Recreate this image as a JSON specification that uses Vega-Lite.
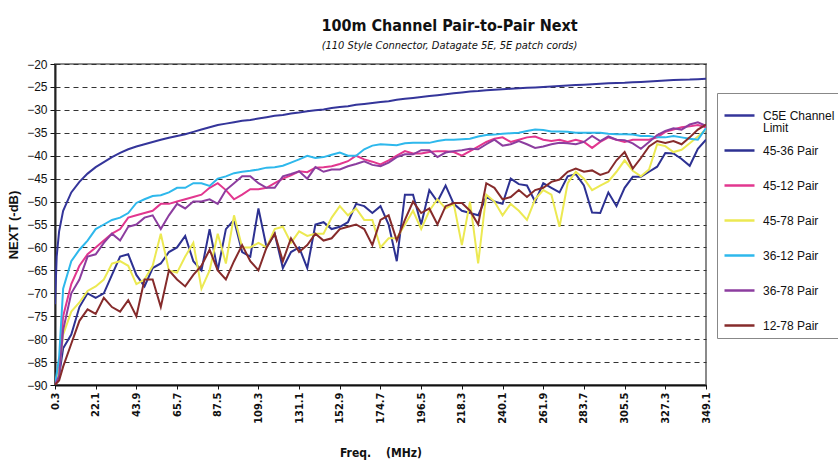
{
  "$schema": "https://vega.github.io/schema/vega-lite/v6.json",
  "width": 651,
  "height": 321,
  "autosize": {"type": "none"},
  "padding": {"left": 55, "top": 64, "right": 132, "bottom": 87},
  "background": "white",
  "title": {
    "text": "100m Channel Pair-to-Pair Next",
    "subtitle": "(110 Style Connector, Datagate 5E, 5E patch cords)",
    "anchor": "middle",
    "frame": "group",
    "dx": 69,
    "offset": 7,
    "font": "Liberation Sans Narrow, DejaVu Sans Condensed, sans-serif",
    "fontSize": 16,
    "fontWeight": "bold",
    "color": "#111111",
    "subtitleFont": "Liberation Sans Narrow, DejaVu Sans Condensed, sans-serif",
    "subtitleFontSize": 11,
    "subtitleFontStyle": "italic",
    "subtitleColor": "#111111",
    "subtitlePadding": 6
  },
  "config": {
    "view": {"stroke": "#8a8a8a", "strokeWidth": 2}
  },
  "data": {
    "values": [
      {"f":0.3,"lim":-72.4,"a":-90,"b":-90,"c":-90,"d":-90,"e":-90,"g":-90},
      {"f":1.2,"lim":-62},
      {"f":2.5,"lim":-56.5,"a":-88,"b":-86,"c":-87,"d":-84,"e":-88,"g":-89},
      {"f":4.66,"lim":-52,"a":-82,"b":-75,"c":-79,"d":-69,"e":-78,"g":-86},
      {"f":9.02,"lim":-48,"a":-79,"b":-68,"c":-74,"d":-63,"e":-70,"g":-81},
      {"f":13.38,"lim":-45.7,"a":-73,"b":-64,"c":-72,"d":-60.5,"e":-67,"g":-76},
      {"f":17.74,"lim":-43.9,"a":-70,"b":-61.5,"c":-69.5,"d":-58.5,"e":-62,"g":-73.5},
      {"f":22.1,"lim":-42.5,"a":-71,"b":-60,"c":-68.5,"d":-56,"e":-61.5,"g":-74.5},
      {"f":26.46,"lim":-41.4,"a":-70,"b":-58.5,"c":-67,"d":-55,"e":-59,"g":-71},
      {"f":30.82,"lim":-40.3,"a":-66,"b":-57,"c":-63.5,"d":-54,"e":-57,"g":-73},
      {"f":35.18,"lim":-39.4,"a":-62,"b":-56,"c":-63,"d":-53.5,"e":-58.5,"g":-74},
      {"f":39.54,"lim":-38.6,"a":-61.5,"b":-53.5,"c":-64,"d":-52.5,"e":-55.5,"g":-71.5},
      {"f":43.9,"lim":-38,"a":-66,"b":-53,"c":-68,"d":-50.3,"e":-55,"g":-75},
      {"f":48.26,"lim":-37.5,"a":-68.5,"b":-52.5,"c":-67,"d":-49.5,"e":-53.5,"g":-67},
      {"f":52.62,"lim":-37,"a":-64.5,"b":-52,"c":-64,"d":-48.8,"e":-53,"g":-67},
      {"f":56.98,"lim":-36.5,"a":-63.5,"b":-50.5,"c":-57,"d":-48.6,"e":-56,"g":-73},
      {"f":61.34,"lim":-36.1,"a":-61,"b":-50.5,"c":-65,"d":-48,"e":-53,"g":-65},
      {"f":65.7,"lim":-35.7,"a":-60,"b":-50,"c":-65.5,"d":-47,"e":-50.5,"g":-67},
      {"f":70.06,"lim":-35.3,"a":-57.5,"b":-49.5,"c":-62,"d":-47,"e":-51.5,"g":-68.5},
      {"f":74.42,"lim":-34.8,"a":-63,"b":-49,"c":-59,"d":-46,"e":-50,"g":-66},
      {"f":78.78,"lim":-34.3,"a":-65,"b":-48.5,"c":-69,"d":-46,"e":-50,"g":-64},
      {"f":83.14,"lim":-33.8,"a":-56,"b":-47,"c":-65,"d":-46.6,"e":-49.5,"g":-60.5},
      {"f":87.5,"lim":-33.3,"a":-65,"b":-46,"c":-57,"d":-45,"e":-50.5,"g":-65},
      {"f":91.86,"lim":-33,"a":-56,"b":-47.5,"c":-63.5,"d":-44.5,"e":-47.5,"g":-67},
      {"f":96.22,"lim":-32.7,"a":-54,"b":-49.5,"c":-53,"d":-43.8,"e":-46,"g":-63},
      {"f":100.58,"lim":-32.4,"a":-61,"b":-48.5,"c":-60,"d":-43.5,"e":-44.5,"g":-59.5},
      {"f":104.94,"lim":-32.2,"a":-62,"b":-47.3,"c":-60,"d":-43.3,"e":-44.5,"g":-63},
      {"f":109.3,"lim":-31.9,"a":-51.5,"b":-47.3,"c":-59,"d":-43,"e":-46,"g":-65},
      {"f":113.66,"lim":-31.6,"a":-60,"b":-47,"c":-60,"d":-42.6,"e":-47,"g":-60},
      {"f":118.02,"lim":-31.3,"a":-57,"b":-46,"c":-56,"d":-42.5,"e":-47,"g":-57},
      {"f":122.38,"lim":-31.1,"a":-64.5,"b":-45,"c":-55.5,"d":-42.2,"e":-44.5,"g":-63},
      {"f":126.74,"lim":-30.8,"a":-61,"b":-44.3,"c":-59,"d":-41.5,"e":-44,"g":-58},
      {"f":131.1,"lim":-30.6,"a":-60,"b":-43.4,"c":-56.5,"d":-40.8,"e":-43.4,"g":-61},
      {"f":135.46,"lim":-30.3,"a":-64.5,"b":-43.6,"c":-57.5,"d":-40,"e":-45,"g":-59.5},
      {"f":139.82,"lim":-30.1,"a":-55,"b":-42.6,"c":-57,"d":-40.5,"e":-42.5,"g":-57},
      {"f":144.18,"lim":-29.9,"a":-54.5,"b":-42.5,"c":-57,"d":-40.3,"e":-43.5,"g":-58.5},
      {"f":148.54,"lim":-29.6,"a":-56,"b":-42.3,"c":-53.5,"d":-39.8,"e":-43,"g":-58},
      {"f":152.9,"lim":-29.4,"a":-55.5,"b":-41.8,"c":-51,"d":-39.3,"e":-43,"g":-56},
      {"f":157.26,"lim":-29.2,"a":-54.5,"b":-41.2,"c":-53,"d":-40,"e":-42.3,"g":-55.5},
      {"f":161.62,"lim":-28.9,"a":-50.5,"b":-40,"c":-51.5,"d":-40,"e":-41.8,"g":-55},
      {"f":165.98,"lim":-28.7,"a":-51,"b":-40.8,"c":-54,"d":-38.6,"e":-41.2,"g":-56},
      {"f":170.34,"lim":-28.5,"a":-52.5,"b":-41.3,"c":-54,"d":-37.8,"e":-42,"g":-59.5},
      {"f":174.7,"lim":-28.3,"a":-51,"b":-41.9,"c":-60,"d":-37.5,"e":-42.3,"g":-54},
      {"f":179.06,"lim":-28.1,"a":-55,"b":-41,"c":-58,"d":-37.6,"e":-41.5,"g":-53},
      {"f":183.42,"lim":-27.8,"a":-63,"b":-40,"c":-58,"d":-37.7,"e":-40.3,"g":-58.5},
      {"f":187.78,"lim":-27.6,"a":-48.5,"b":-39,"c":-55,"d":-37.3,"e":-39.7,"g":-54},
      {"f":192.14,"lim":-27.4,"a":-48.5,"b":-39.5,"c":-52,"d":-37.2,"e":-39.7,"g":-50},
      {"f":196.5,"lim":-27.2,"a":-55,"b":-39.5,"c":-56,"d":-37.2,"e":-38.8,"g":-52.5},
      {"f":200.86,"lim":-27,"a":-47.5,"b":-39.2,"c":-52,"d":-37.2,"e":-38.8,"g":-51.5},
      {"f":205.22,"lim":-26.8,"a":-50,"b":-39,"c":-49.5,"d":-36.8,"e":-40.3,"g":-55},
      {"f":209.58,"lim":-26.6,"a":-46.5,"b":-39,"c":-51.5,"d":-36.5,"e":-39.3,"g":-51},
      {"f":213.94,"lim":-26.4,"a":-50.5,"b":-39.2,"c":-50.5,"d":-36.5,"e":-39,"g":-50.3},
      {"f":218.3,"lim":-26.2,"a":-52,"b":-40,"c":-59.5,"d":-36.4,"e":-38.8,"g":-50.3},
      {"f":222.66,"lim":-26,"a":-52.5,"b":-39,"c":-50,"d":-36.3,"e":-38.5,"g":-52},
      {"f":227.02,"lim":-25.9,"a":-53,"b":-38,"c":-63.5,"d":-35.8,"e":-38.6,"g":-55},
      {"f":231.38,"lim":-25.7,"a":-49,"b":-37,"c":-48.5,"d":-35.5,"e":-37.5,"g":-46},
      {"f":235.74,"lim":-25.6,"a":-50,"b":-36.3,"c":-50,"d":-35.4,"e":-36.5,"g":-47},
      {"f":240.1,"lim":-25.5,"a":-50.5,"b":-36,"c":-53,"d":-35.2,"e":-37.8,"g":-49.5},
      {"f":244.46,"lim":-25.4,"a":-45,"b":-37,"c":-50.5,"d":-35.1,"e":-37.5,"g":-49},
      {"f":248.82,"lim":-25.3,"a":-46.2,"b":-36.5,"c":-52,"d":-35,"e":-36.8,"g":-47.5},
      {"f":253.18,"lim":-25.2,"a":-46.5,"b":-36,"c":-54,"d":-34.6,"e":-37.5,"g":-49},
      {"f":257.54,"lim":-25.1,"a":-50,"b":-35.8,"c":-49.5,"d":-34.3,"e":-38.3,"g":-47.5},
      {"f":261.9,"lim":-25,"a":-46,"b":-36.5,"c":-47.5,"d":-34.4,"e":-38,"g":-47},
      {"f":266.26,"lim":-24.9,"a":-47,"b":-36.8,"c":-48.5,"d":-34.7,"e":-37.5,"g":-45.7},
      {"f":270.62,"lim":-24.8,"a":-48,"b":-36.5,"c":-55.5,"d":-34.7,"e":-37.2,"g":-45.2},
      {"f":274.98,"lim":-24.7,"a":-44.5,"b":-37,"c":-46,"d":-34.8,"e":-37.3,"g":-43.5},
      {"f":279.34,"lim":-24.6,"a":-44,"b":-36.5,"c":-43.5,"d":-35,"e":-37.5,"g":-42.8},
      {"f":283.7,"lim":-24.5,"a":-46.5,"b":-37,"c":-45,"d":-35,"e":-37,"g":-43.5},
      {"f":288.06,"lim":-24.4,"a":-52.4,"b":-38.3,"c":-47.5,"d":-35,"e":-35.7,"g":-43.2},
      {"f":292.42,"lim":-24.3,"a":-52.5,"b":-37,"c":-46.5,"d":-35,"e":-36.8,"g":-44.2},
      {"f":296.78,"lim":-24.2,"a":-48,"b":-36,"c":-45.6,"d":-35.2,"e":-35.8,"g":-43.6},
      {"f":301.14,"lim":-24.15,"a":-51,"b":-36.5,"c":-43.5,"d":-35.3,"e":-36.5,"g":-41},
      {"f":305.5,"lim":-24.1,"a":-47,"b":-37,"c":-41,"d":-35.3,"e":-36.6,"g":-39.2},
      {"f":309.86,"lim":-24,"a":-44.6,"b":-36.5,"c":-43.3,"d":-35.4,"e":-37.3,"g":-42.8},
      {"f":314.22,"lim":-23.9,"a":-44.6,"b":-36.5,"c":-44.5,"d":-35.7,"e":-38.5,"g":-40.5},
      {"f":318.58,"lim":-23.8,"a":-43.5,"b":-36.5,"c":-43,"d":-35.7,"e":-37,"g":-38},
      {"f":322.94,"lim":-23.7,"a":-42.4,"b":-36,"c":-37.5,"d":-36,"e":-35.5,"g":-36.8},
      {"f":327.3,"lim":-23.6,"a":-39.4,"b":-34.8,"c":-37.9,"d":-36,"e":-34.6,"g":-37.2},
      {"f":331.66,"lim":-23.5,"a":-39.5,"b":-34.3,"c":-39.2,"d":-35.7,"e":-34,"g":-36.8},
      {"f":336.02,"lim":-23.45,"a":-40.7,"b":-33.8,"c":-38.7,"d":-36,"e":-34.3,"g":-37.5},
      {"f":340.38,"lim":-23.4,"a":-42.2,"b":-33.6,"c":-37.3,"d":-36.3,"e":-33.2,"g":-36},
      {"f":344.74,"lim":-23.3,"a":-38.5,"b":-33.3,"c":-35.8,"d":-36.5,"e":-32.7,"g":-34.3},
      {"f":349.1,"lim":-23.2,"a":-36.5,"b":-33.8,"c":-34.3,"d":-34,"e":-33.5,"g":-33.2}
    ]
  },
  "transform": [
    {"fold": ["lim", "a", "b", "c", "d", "e", "g"], "as": ["series", "v"]},
    {"filter": "isValid(datum.v)"}
  ],
  "mark": {"type": "line", "strokeWidth": 2, "clip": true},
  "encoding": {
    "x": {
      "field": "f",
      "type": "quantitative",
      "scale": {"domain": [0.3, 349.1], "nice": false, "zero": false},
      "axis": {
        "values": [0.3, 22.1, 43.9, 65.7, 87.5, 109.3, 131.1, 152.9, 174.7, 196.5, 218.3, 240.1, 261.9, 283.7, 305.5, 327.3, 349.1],
        "format": ".1f",
        "labelAngle": 270,
        "labelFont": "Liberation Sans Narrow, DejaVu Sans Condensed, sans-serif",
        "labelFontSize": 11,
        "labelFontWeight": "bold",
        "labelColor": "#111111",
        "labelPadding": 3,
        "labelOverlap": false,
        "labelFlush": false,
        "tickSize": 4,
        "tickColor": "#111111",
        "domainColor": "#111111",
        "domainWidth": 2,
        "grid": false,
        "title": "Freq.\u00a0\u00a0\u00a0 (MHz)",
        "titleFont": "Liberation Sans Narrow, DejaVu Sans Condensed, sans-serif",
        "titleFontSize": 12,
        "titleFontWeight": "bold",
        "titleColor": "#111111",
        "titlePadding": 24
      }
    },
    "y": {
      "field": "v",
      "type": "quantitative",
      "scale": {"domain": [-90, -20], "nice": false, "zero": false},
      "axis": {
        "values": [-90, -85, -80, -75, -70, -65, -60, -55, -50, -45, -40, -35, -30, -25, -20],
        "labelFont": "Liberation Sans, Arial, sans-serif",
        "labelFontSize": 12,
        "labelColor": "#111111",
        "labelPadding": 3,
        "labelFlush": false,
        "tickSize": 5,
        "tickColor": "#111111",
        "domainColor": "#222222",
        "domainWidth": 2,
        "grid": true,
        "gridDash": [5, 4],
        "gridColor": "#333333",
        "gridWidth": 1,
        "gridOpacity": 1,
        "title": "NEXT (-dB)",
        "titleFont": "Liberation Sans, Arial, sans-serif",
        "titleFontSize": 13,
        "titleFontWeight": "bold",
        "titleColor": "#111111",
        "titlePadding": 6
      }
    },
    "color": {
      "field": "series",
      "type": "nominal",
      "scale": {
        "domain": ["lim", "a", "b", "c", "d", "e", "g"],
        "range": ["#34359A", "#2D3192", "#E2378F", "#ECE952", "#2EB8EC", "#8C3D9F", "#862B2B"]
      },
      "legend": {
        "orient": "none",
        "legendX": 662,
        "legendY": 29,
        "title": null,
        "fillColor": "white",
        "strokeColor": "#888888",
        "padding": 6,
        "gridAlign": "all",
        "symbolType": "stroke",
        "symbolSize": 900,
        "symbolStrokeWidth": 2.5,
        "labelFont": "Liberation Sans, Arial, sans-serif",
        "labelFontSize": 12,
        "labelColor": "#111111",
        "labelOffset": 7,
        "labelLimit": 300,
        "rowPadding": 0,
        "labelExpr": "datum.value == 'lim' ? ['C5E Channel', 'Limit'] : datum.value == 'a' ? '45-36 Pair' : datum.value == 'b' ? '45-12 Pair' : datum.value == 'c' ? '45-78 Pair' : datum.value == 'd' ? '36-12 Pair' : datum.value == 'e' ? '36-78 Pair' : '12-78 Pair'",
        "encode": {
          "labels": {
            "update": {
              "lineHeight": {"value": 12.5}
            }
          }
        }
      }
    },
    "strokeWidth": {
      "condition": {"test": "datum.series == 'lim'", "value": 2.5},
      "value": 2
    }
  }
}
